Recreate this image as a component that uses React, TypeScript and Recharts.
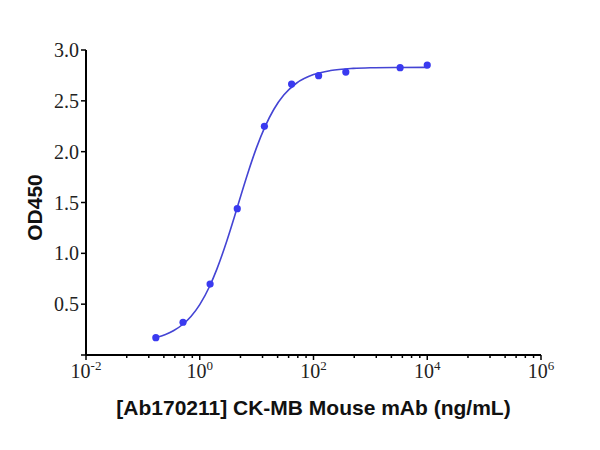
import React from 'react';
import { ComposedChart, Line, Scatter, XAxis, YAxis, Label } from 'recharts';

// Measured points (concentration ng/mL, OD450)
const pointX = [0.169, 0.508, 1.52, 4.57, 13.7, 41.2, 123, 370, 3333, 10000];
const pointY = [0.170, 0.322, 0.698, 1.439, 2.249, 2.665, 2.747, 2.783, 2.826, 2.852];

// Fitted curve
const curveX = [0.169, 0.25, 0.35, 0.5, 0.7, 1, 1.5, 2, 3, 4, 5, 7, 10, 14, 20, 30, 50, 100, 200, 500, 1000, 3000, 10000];
const curveY = [0.172, 0.202, 0.241, 0.300, 0.379, 0.496, 0.679, 0.845, 1.124, 1.346, 1.525, 1.788, 2.042, 2.244, 2.415, 2.557, 2.673, 2.758, 2.798, 2.819, 2.825, 2.828, 2.829];

// Axis ticks
const xMajorTicks = [0.01, 1, 100, 10000, 1000000];
const xMajorExp = ['-2', '0', '2', '4', '6'];
const xMinorFactors = [5.2, 12.7, 23.4, 36.5, 53, 74];
const yTicks = [0, 0.5, 1.0, 1.5, 2.0, 2.5, 3.0];

const xTitle = '[Ab170211] CK-MB Mouse mAb (ng/mL)';
const yTitle = 'OD450';

const points = pointX.map((x, i) => ({ x, y: pointY[i] }));
const curve = curveX.map((x, i) => ({ x, y: curveY[i] }));
const xMinorTicks: number[] = [];
xMajorTicks.slice(0, -1).forEach((b) => xMinorFactors.forEach((f) => xMinorTicks.push(b * f)));
const xAllTicks = [...xMajorTicks, ...xMinorTicks].sort((a, b) => a - b);

const SERIF = '"Liberation Serif", "Times New Roman", serif';
const SANS = '"Liberation Sans", Arial, sans-serif';

const XTick = (props: any) => {
  const { x, y, payload } = props;
  const idx = xMajorTicks.findIndex((t) => Math.abs(t - payload.value) / t < 1e-6);
  const major = idx >= 0;
  return (
    <g>
      <line x1={x} x2={x} y1={y} y2={y + (major ? 5 : 3)} stroke="#000" strokeWidth={1.5} />
      {major && (
        <text x={x} y={y + 23} textAnchor="middle" fontFamily={SERIF} fontSize={20} fill="#222">
          <tspan>10</tspan>
          <tspan dy={-8} fontSize={13}>{xMajorExp[idx]}</tspan>
        </text>
      )}
    </g>
  );
};

const YTick = (props: any) => {
  const { x, y, payload } = props;
  return (
    <g>
      <line x1={x} x2={x - 5} y1={y} y2={y} stroke="#000" strokeWidth={1.5} />
      {payload.value > 0 && (
        <text x={x - 7} y={y} dy="0.35em" textAnchor="end" fontFamily={SERIF} fontSize={20} fill="#222">
          {payload.value.toFixed(1)}
        </text>
      )}
    </g>
  );
};

const Dot = (props: any) => <circle cx={props.cx} cy={props.cy} r={3.6} fill="#3a3af0" />;

export default function App() {
  return (
    <ComposedChart width={592} height={442} margin={{ top: 42, right: 59, bottom: 35, left: 18 }}>
      <XAxis
        type="number"
        dataKey="x"
        scale="log"
        domain={[0.01, 1000000]}
        allowDataOverflow
        ticks={xAllTicks}
        interval={0}
        tick={<XTick />}
        tickLine={false}
        tickSize={0}
        tickMargin={0}
        height={60}
        axisLine={{ stroke: '#000', strokeWidth: 2 }}
      >
        <Label
          content={(p: any) => {
            const vb = p.viewBox;
            return (
              <text x={vb.x + vb.width / 2} y={vb.y + 60} textAnchor="middle" fontFamily={SANS} fontWeight="bold" fontSize={21} fill="#111">
                {xTitle}
              </text>
            );
          }}
        />
      </XAxis>
      <YAxis
        type="number"
        dataKey="y"
        domain={[0, 3]}
        ticks={yTicks}
        interval={0}
        tick={<YTick />}
        tickLine={false}
        tickSize={0}
        tickMargin={0}
        width={60}
        axisLine={{ stroke: '#000', strokeWidth: 2 }}
      >
        <Label
          content={(p: any) => {
            const vb = p.viewBox;
            const cx = 26.5;
            const cy = vb.y + vb.height / 2 + 5;
            return (
              <text x={cx} y={cy} dy="0.36em" textAnchor="middle" transform={`rotate(-90, ${cx}, ${cy})`} fontFamily={SANS} fontWeight="bold" fontSize={21} fill="#111">
                {yTitle}
              </text>
            );
          }}
        />
      </YAxis>
      <Line data={curve} dataKey="y" type="monotone" stroke="#4444d4" strokeWidth={1.6} dot={false} isAnimationActive={false} />
      <Scatter data={points} dataKey="y" shape={<Dot />} isAnimationActive={false} />
    </ComposedChart>
  );
}
